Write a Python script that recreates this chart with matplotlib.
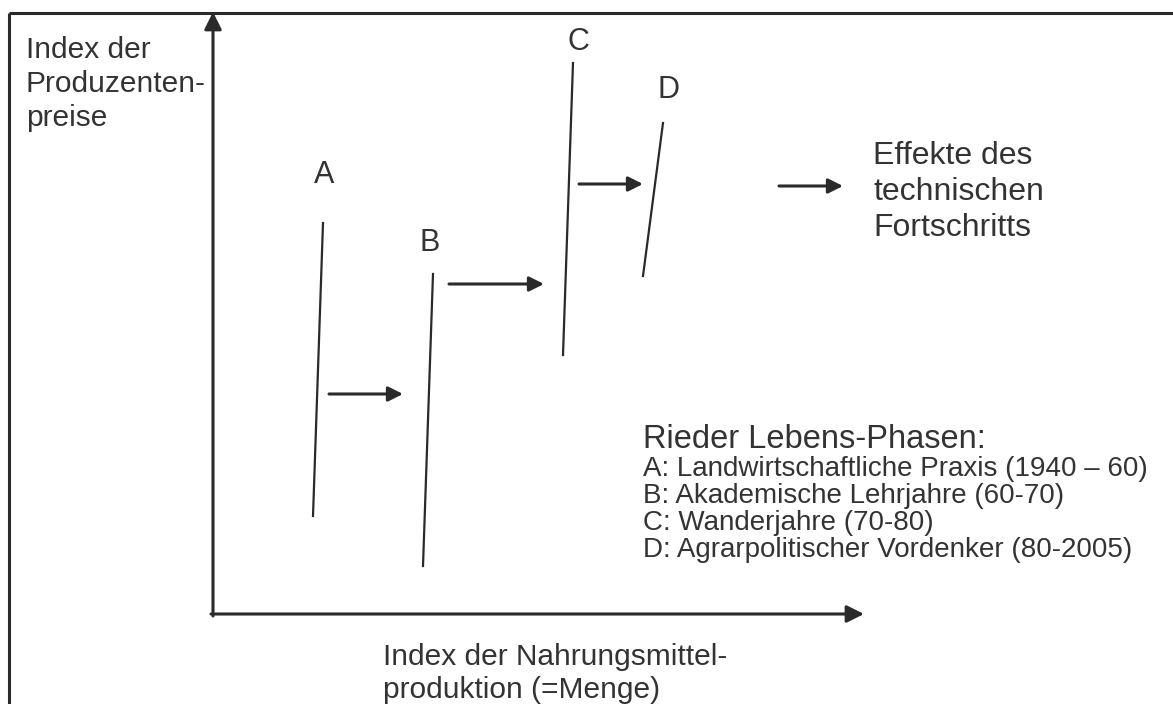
import matplotlib
matplotlib.use('Agg')
import matplotlib.pyplot as plt

matplotlib.rcParams['font.family'] = ['Liberation Sans', 'DejaVu Sans']

# phase lines (top x, top y, bottom x, bottom y) in picture units
phases = ['A', 'B', 'C', 'D']
top_x = [323, 433, 573, 663]
top_y = [223, 274, 63, 123]
bot_x = [313, 423, 563, 643]
bot_y = [516, 566, 355, 276]
label_x = [324, 430, 578, 669]
label_y = [175, 243, 42, 90]

# shift arrows between the phases (x start, x end, y)
shift_x0 = [329, 449, 579, 779]
shift_x1 = [403, 544, 643, 843]
shift_y = [394, 284, 184, 186]

legend_title = 'Rieder Lebens-Phasen:'
legend_lines = ['A: Landwirtschaftliche Praxis (1940 \u2013 60)',
                'B: Akademische Lehrjahre (60-70)',
                'C: Wanderjahre (70-80)',
                'D: Agrarpolitischer Vordenker (80-2005)']
legend_y = [469, 496, 523, 550]

ylabel_lines = ['Index der', 'Produzenten-', 'preise']
ylabel_base = [58, 92, 126]
xlabel_lines = ['Index der Nahrungsmittel-', 'produktion (=Menge)']
xlabel_base = [665, 698]
effect_lines = ['Effekte des', 'technischen', 'Fortschritts']
effect_base = [164, 200, 236]

ink = '#2a2a2a'
txt = '#333333'

fig = plt.figure(figsize=(11.73, 7.04), dpi=100)
ax = fig.add_axes([0, 0, 1, 1])
ax.set_xlim(0, 1173)
ax.set_ylim(704, 0)
ax.axis('off')

# frame (top and left only)
ax.plot([9, 1173], [13, 13], color=ink, lw=2.2, solid_capstyle='butt')
ax.plot([9, 9], [13, 704], color=ink, lw=2.2, solid_capstyle='butt')

# axes arrows
ax.annotate('', xy=(213, 12), xytext=(213, 616),
            arrowprops=dict(arrowstyle='-|>', color=ink, lw=2.2, mutation_scale=26,
                            shrinkA=0, shrinkB=0))
ax.annotate('', xy=(864, 614), xytext=(211, 614),
            arrowprops=dict(arrowstyle='-|>', color=ink, lw=2.2, mutation_scale=26,
                            shrinkA=0, shrinkB=0))

for i in range(len(phases)):
    ax.plot([top_x[i], bot_x[i]], [top_y[i], bot_y[i]], color=ink, lw=1.6)
    ax.text(label_x[i], label_y[i], phases[i], fontsize=22, color=txt,
            ha='center', va='center')

for i in range(len(shift_y)):
    ax.annotate('', xy=(shift_x1[i], shift_y[i]), xytext=(shift_x0[i], shift_y[i]),
                arrowprops=dict(arrowstyle='-|>', color=ink, lw=2.2, mutation_scale=22,
                                shrinkA=0, shrinkB=0))

for s, y in zip(ylabel_lines, ylabel_base):
    ax.text(26, y, s, fontsize=21.5, color=txt, ha='left', va='baseline')
for s, y in zip(xlabel_lines, xlabel_base):
    ax.text(383, y, s, fontsize=21.5, color=txt, ha='left', va='baseline')
for s, y in zip(effect_lines, effect_base):
    ax.text(873, y, s, fontsize=23, color=txt, ha='left', va='baseline')

ax.text(643, 440, legend_title, fontsize=23.5, color=txt, ha='left', va='center')
for s, y in zip(legend_lines, legend_y):
    ax.text(643, y, s, fontsize=20, color=txt, ha='left', va='center')

fig.savefig('out.png', dpi=100)
